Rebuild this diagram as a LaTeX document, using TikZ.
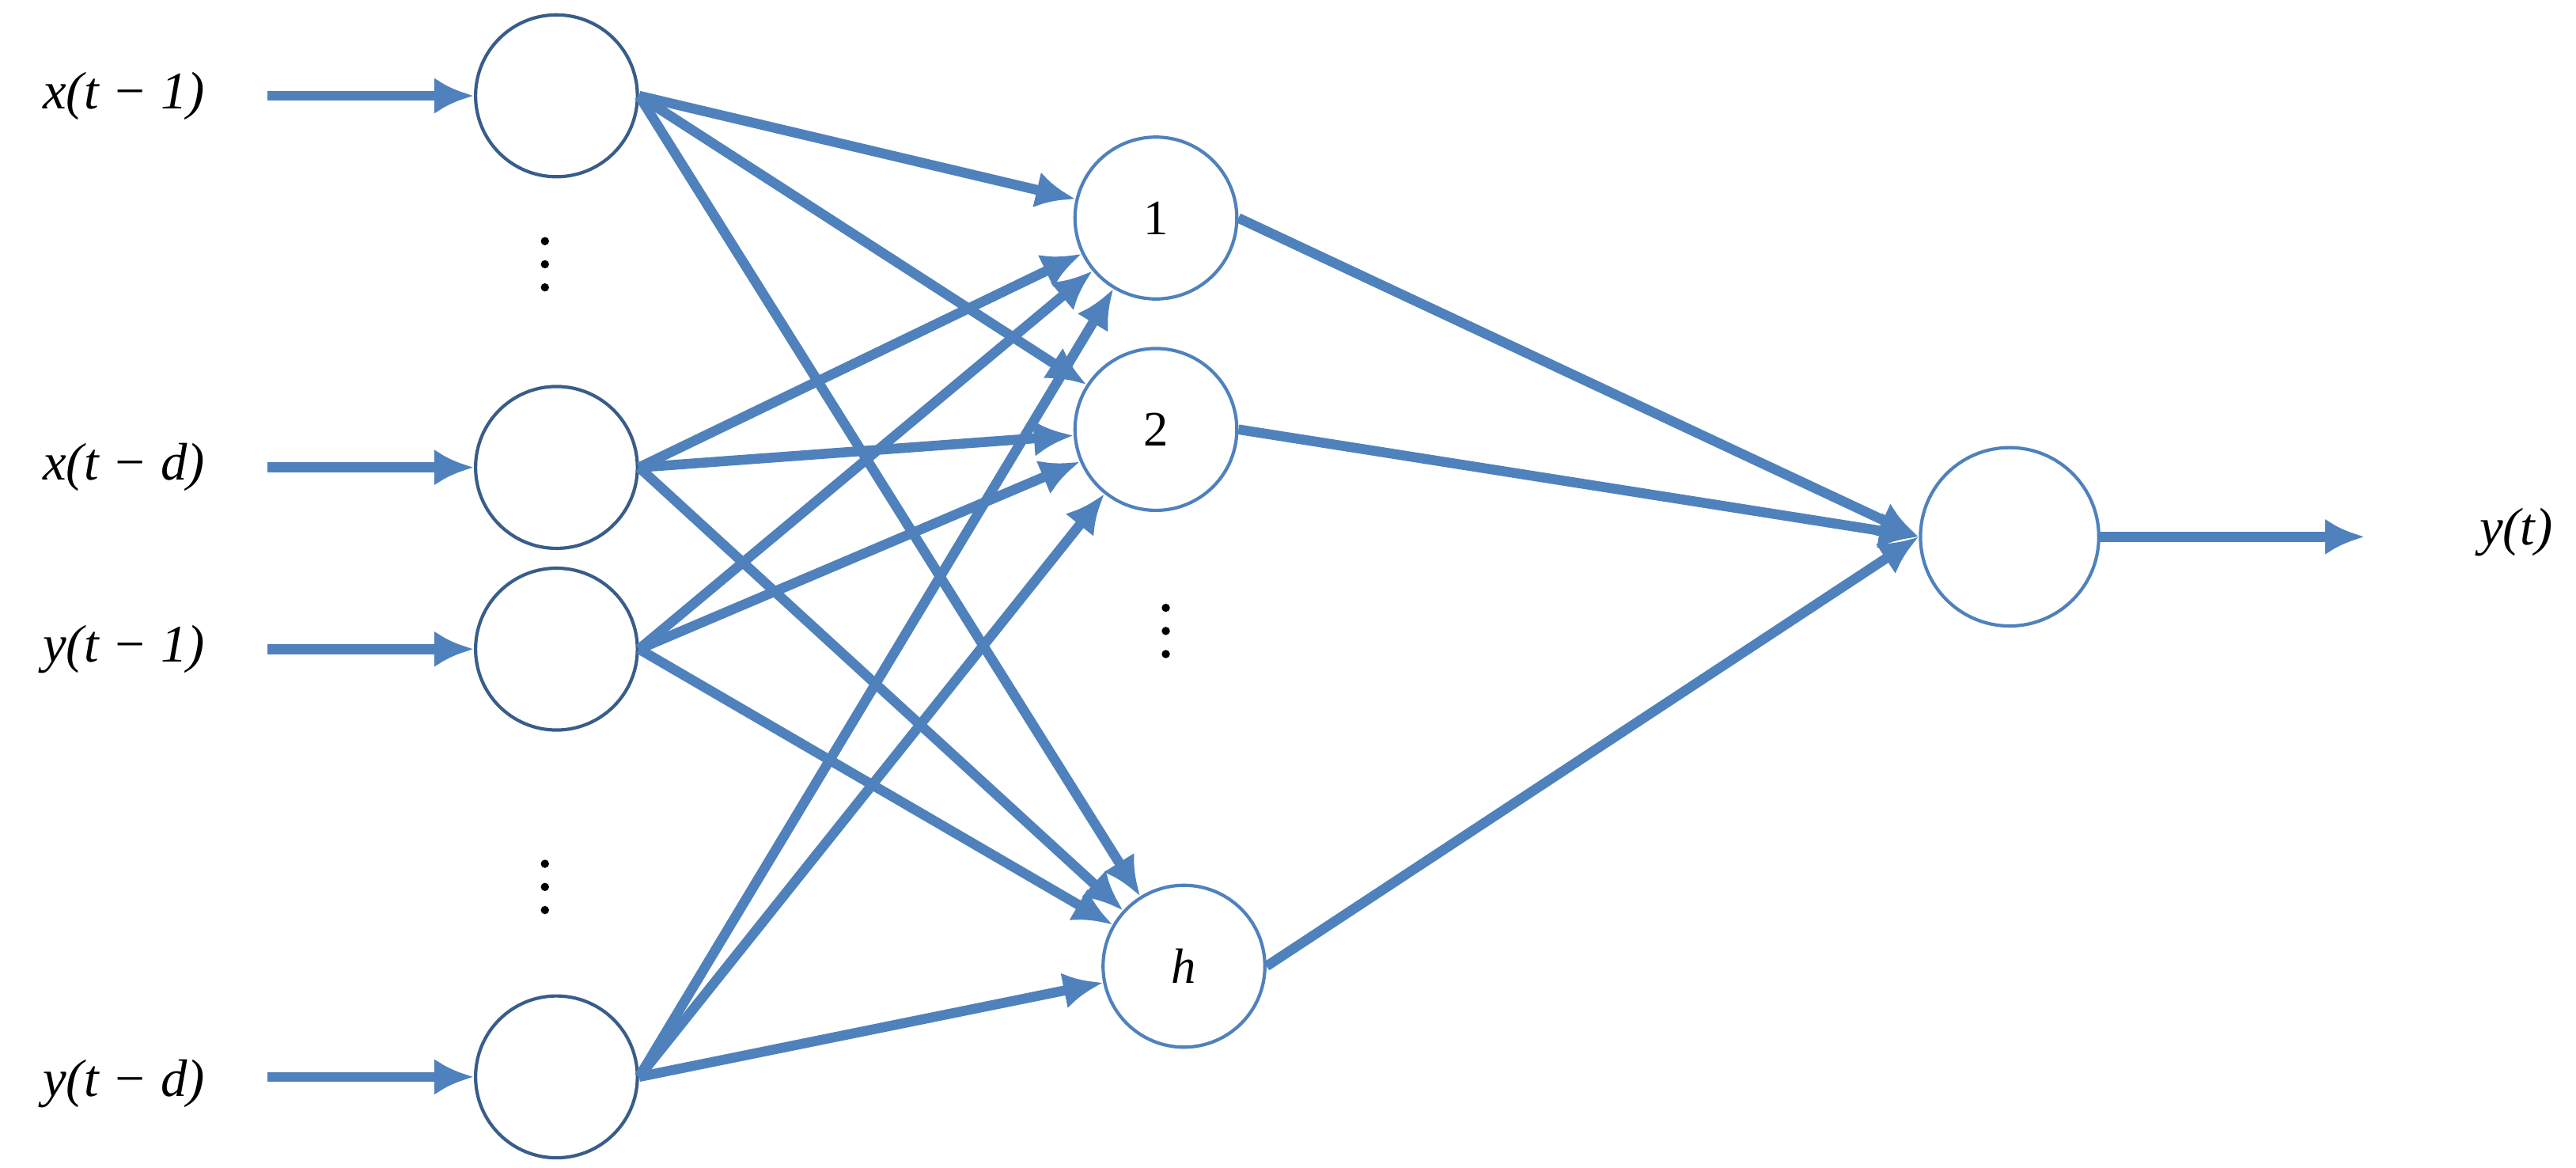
\documentclass[tikz,border=0pt]{standalone}
\usepackage{fontspec}
\setmainfont{Liberation Serif}
\usetikzlibrary{arrows.meta}
\definecolor{lb}{RGB}{79,129,189}
\definecolor{db}{RGB}{56,93,138}
\begin{document}
\begin{tikzpicture}[x=1pt,y=-1pt,
 inp/.style={circle,draw=db,line width=2pt,minimum size=98pt,inner sep=0pt},
 hid/.style={circle,draw=lb,line width=2pt,minimum size=98pt,inner sep=0pt,font=\fontsize{30}{32}\selectfont},
 lab/.style={font=\fontsize{32}{34}\selectfont\itshape},
 con/.style={draw=lb,line width=6pt,-{Latex[length=24pt,width=22pt]}},
 dt/.style={circle,fill=black,inner sep=0pt,minimum size=5pt}]
\useasboundingbox (0,0) rectangle (1560,707);
\node[inp] (i1) at (337,58) {};
\node[inp] (i2) at (337,283) {};
\node[inp] (i3) at (337,393) {};
\node[inp] (i4) at (337,652) {};
\node[hid] (h1) at (700,132) {1};
\node[hid] (h2) at (700,260) {2};
\node[hid] (h3) at (717,585) {\itshape h};
\node[hid,minimum size=108pt] (o) at (1217,325) {};
\node[lab] (l1) at (75,58) {x(t − 1)};
\node[lab] (l2) at (75,283) {x(t − d)};
\node[lab] (l3) at (75,393) {y(t − 1)};
\node[lab] (l4) at (75,656) {y(t − d)};
\node[lab,anchor=west] (ly) at (1498,322) {y(t)};
\coordinate (s1) at (162,58);
\coordinate (s2) at (162,283);
\coordinate (s3) at (162,393);
\coordinate (s4) at (162,652);
\coordinate (oe) at (1432,325);
\foreach \x/\y in {330/160,330/537,706/382}{
 \node[dt] at (\x,\y-14) {}; \node[dt] at (\x,\y) {}; \node[dt] at (\x,\y+14) {};}
\foreach \k in {1,...,4}{\draw[con] (s\k) -- (i\k);}
\foreach \i in {1,...,4}{\foreach \h in {1,2,3}{\draw[con] (i\i.east) -- (h\h);}}
\foreach \h in {1,2,3}{\draw[con] (h\h.east) -- (o.west);}
\draw[con] (o.east) -- (oe);
\end{tikzpicture}
\end{document}
